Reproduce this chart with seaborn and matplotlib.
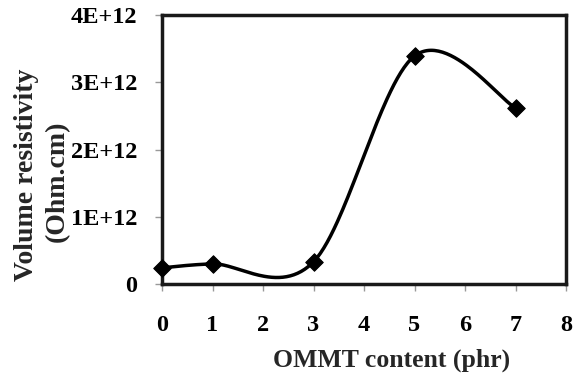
import numpy as np
import pandas as pd
import matplotlib
matplotlib.use("Agg")
import matplotlib.pyplot as plt
import seaborn as sns

content = [0, 1, 3, 5, 7]
resistivity = [0.24e12, 0.30e12, 0.33e12, 3.39e12, 2.62e12]
xticks = [0, 1, 2, 3, 4, 5, 6, 7, 8]
yticks = [0, 1e12, 2e12, 3e12, 4e12]
ytick_labels = ["0", "1E+12", "2E+12", "3E+12", "4E+12"]

sns.set_theme(style="white")
plt.rcParams['font.family'] = ['Liberation Serif', 'DejaVu Serif']
plt.rcParams['font.weight'] = 'bold'


def excel_smooth(xs, ys, n=60):
    P = np.column_stack([xs, ys]).astype(float)
    m = len(P)
    out = []
    for i in range(m - 1):
        p0 = P[i - 1] if i > 0 else P[i]
        p1 = P[i]
        p2 = P[i + 1]
        p3 = P[i + 2] if i + 2 < m else P[i + 1]
        c1 = p1 + (p2 - p0) / 6.0
        c2 = p2 - (p3 - p1) / 6.0
        t = np.linspace(0, 1, n)[:, None]
        seg = ((1 - t) ** 3) * p1 + 3 * ((1 - t) ** 2) * t * c1 + 3 * (1 - t) * t ** 2 * c2 + t ** 3 * p2
        out.append(seg if i == 0 else seg[1:])
    return np.vstack(out)


curve = excel_smooth(content, resistivity)
curve_df = pd.DataFrame({"x": curve[:, 0], "y": curve[:, 1]})
pts_df = pd.DataFrame({"x": content, "y": resistivity})

W, H = 582, 376
fig = plt.figure(figsize=(W / 100, H / 100), dpi=100)
ax = fig.add_axes([162 / W, 92 / H, 404 / W, 269 / H])

sns.lineplot(data=curve_df, x="x", y="y", sort=False, ax=ax, color="black", lw=2.5)
sns.scatterplot(data=pts_df, x="x", y="y", ax=ax, marker="D", s=80, color="black",
                edgecolor="black", zorder=5, clip_on=False)

ax.set_xlim(0, 8)
ax.set_ylim(0, 4e12)
ax.set_xticks(xticks)
ax.set_xticklabels([str(v) for v in xticks])
ax.set_yticks(yticks)
ax.set_yticklabels(ytick_labels)
ax.set_xlabel("")
ax.set_ylabel("")
ax.tick_params(axis="both", direction="out", length=5, width=1, color="#999999",
               labelsize=17.5, labelcolor="black")
ax.tick_params(axis="x", pad=17)
ax.tick_params(axis="y", pad=13)
for lab in ax.get_xticklabels() + ax.get_yticklabels():
    lab.set_fontweight("bold")
ax.tick_params(axis="both", which="both", bottom=True, left=True)
for sp in ax.spines.values():
    sp.set_visible(True)
    sp.set_color("#1a1a1a")
    sp.set_linewidth(2.5)

fig.text(392 / W, 1 - 367 / H, "OMMT content (phr)", ha="center", va="baseline",
         fontsize=18.5, fontweight="bold")
fig.text(33 / W, 1 - 175 / H, "Volume resistivity", rotation=90, rotation_mode="anchor",
         ha="center", va="baseline", fontsize=20, fontweight="bold")
fig.text(64 / W, 1 - 181 / H, "(Ohm.cm)", rotation=90, rotation_mode="anchor",
         ha="center", va="baseline", fontsize=20, fontweight="bold")

fig.savefig("out.png", dpi=100, facecolor="white")
